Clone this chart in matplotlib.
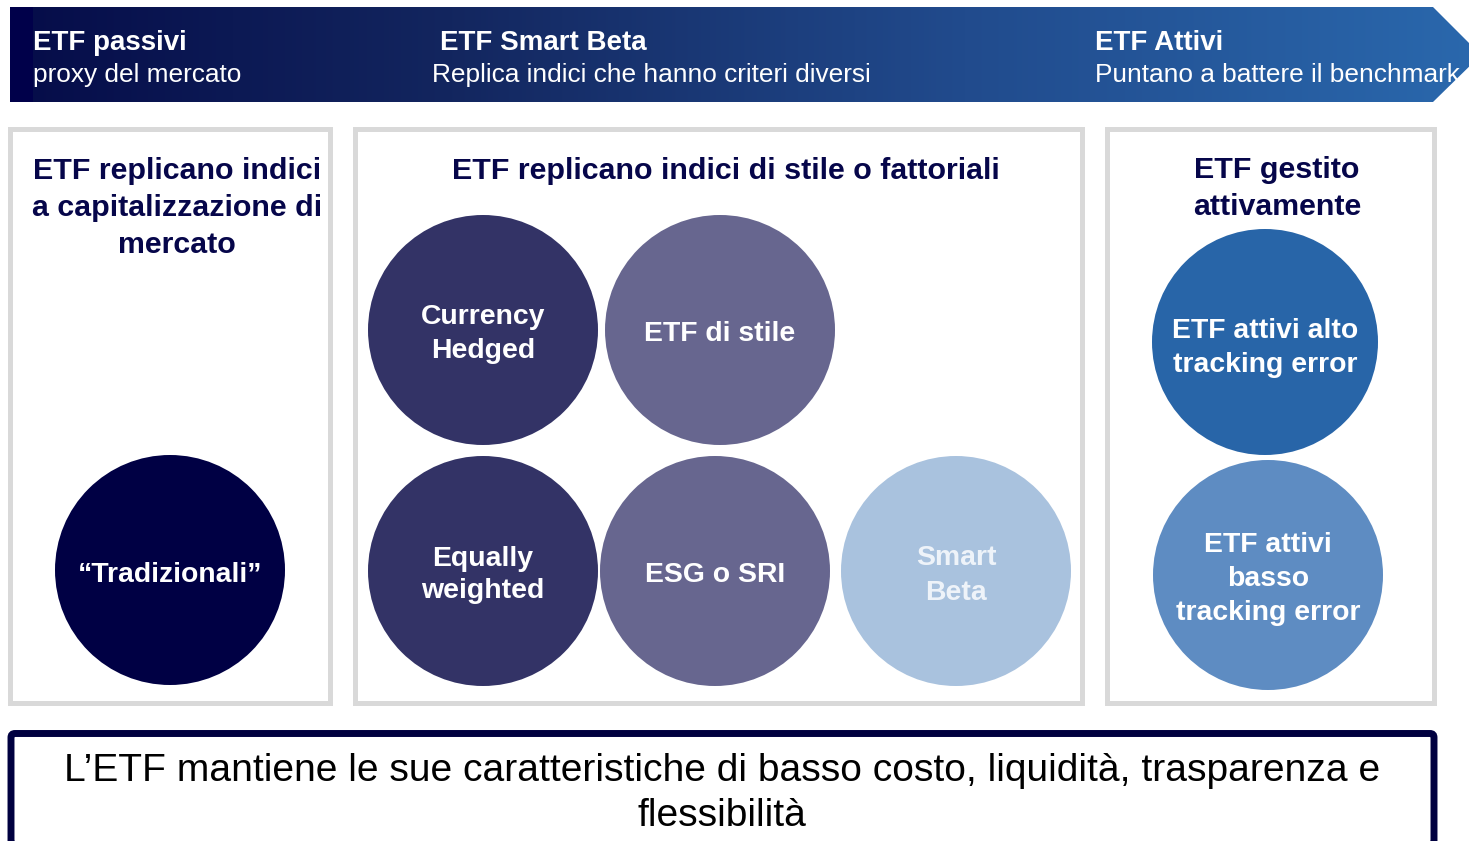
import matplotlib
matplotlib.use("Agg")
import matplotlib.pyplot as plt
import numpy as np
from matplotlib.patches import Rectangle, Circle, Polygon, FancyBboxPatch
from matplotlib.colors import LinearSegmentedColormap

plt.rcParams['font.family'] = ['Liberation Sans', 'DejaVu Sans']

# --- content ---
banner_titles = ["ETF passivi", "ETF Smart Beta", "ETF Attivi"]
banner_subtitles = ["proxy del mercato", "Replica indici che hanno criteri diversi",
                    "Puntano a battere il benchmark"]
box_headers = [["ETF replicano indici", "a capitalizzazione di", "mercato"],
               ["ETF replicano indici di stile o fattoriali"],
               ["ETF gestito", "attivamente"]]
circle_labels = [["\u201cTradizionali\u201d"],
                 ["Currency", "Hedged"],
                 ["ETF di stile"],
                 ["Equally", "weighted"],
                 ["ESG o SRI"],
                 ["Smart", "Beta"],
                 ["ETF attivi alto", "tracking error"],
                 ["ETF attivi", "basso", "tracking error"]]
footer_lines = ["L\u2019ETF mantiene le sue caratteristiche di basso costo, liquidità, trasparenza e",
                "flessibilità"]

# --- layout (pixel coordinates) ---
banner_x = [33, 432, 1095]
box_rects = [(10.5, 128.5, 320, 574), (355.5, 128.5, 727, 574), (1107.5, 128.5, 327, 574)]
header_pos = [(177, 205), (726, 168), (1277, 186)]
circle_pos = [(170, 570, 115), (483, 330, 115), (720, 330, 115), (483, 571, 115),
              (715, 571, 115), (956, 571, 115), (1265, 342, 113), (1268, 575, 115)]
circle_colors = ["#000044", "#333366", "#67668f", "#333366", "#67668f", "#a9c2de",
                 "#2865a8", "#5e8cc2"]
text_colors = ["white"] * 5 + ["#eef3f9"] + ["white"] * 2
circle_text_dy = [2, 1, 1, 1, 1, 1, 3, 1]
circle_spacing = [34, 34, 34, 32, 34, 35, 34, 34]

W, H = 1469, 841
fig = plt.figure(figsize=(W / 100, H / 100), dpi=100)
ax = fig.add_axes([0, 0, 1, 1])


def put(x, y, lines, size, color, spacing, weight="bold", ha="center"):
    em = size * 100 / 72
    n = len(lines)
    for i, s in enumerate(lines):
        yy = y + (i - (n - 1) / 2) * spacing + 0.358 * em
        ax.text(x, yy, s, fontsize=size, color=color, fontweight=weight,
                ha=ha, va="baseline")


# banner with gradient arrow
verts = [(10, 7), (1433, 7), (1481, 55), (1433, 102), (10, 102)]
poly = Polygon(verts, closed=True, facecolor="none", edgecolor="none")
ax.add_patch(poly)
cmap = LinearSegmentedColormap.from_list(
    "band", [(0, "#050c49"), (0.3, "#13265f"), (0.65, "#214b8d"), (1, "#2a68ad")])
grad = np.linspace(0, 1, 512).reshape(1, -1)
im = ax.imshow(grad, cmap=cmap, extent=(10, 1481, 102, 7), aspect="auto",
               interpolation="bilinear")
im.set_clip_path(poly)
ax.add_patch(Rectangle((10, 7), 23, 95, facecolor="#00004a", edgecolor="none"))

for x, t, s in zip(banner_x, banner_titles, banner_subtitles):
    tx = x + 8 if t == "ETF Smart Beta" else x
    put(tx, 40, [t], 20, "white", 0, ha="left")
    put(x, 73, [s], 18.9, "white", 0, weight="normal", ha="left")

# gray boxes
for (x, y, w, h) in box_rects:
    ax.add_patch(Rectangle((x, y), w, h, facecolor="white", edgecolor="#d9d9d9",
                           linewidth=3.6))

for (x, y), lines in zip(header_pos, box_headers):
    put(x, y, lines, 21.9, "#06064a", 37)

# circles
for (cx, cy, r), col, tc, lab, dy, sp in zip(circle_pos, circle_colors, text_colors,
                                             circle_labels, circle_text_dy, circle_spacing):
    ax.add_patch(Circle((cx, cy), r, facecolor=col, edgecolor="none"))
    put(cx, cy + dy, lab, 20.4, tc, sp)

# footer box
ax.add_patch(FancyBboxPatch((11, 733.5), 1423, 111, boxstyle="round,pad=0,rounding_size=4",
                            facecolor="white", edgecolor="#000040", linewidth=5))
put(722, 789.5, footer_lines, 28.1, "black", 45, weight="normal")

ax.set_xlim(0, W)
ax.set_ylim(H, 0)
ax.axis("off")
fig.savefig("out.png", dpi=100)
